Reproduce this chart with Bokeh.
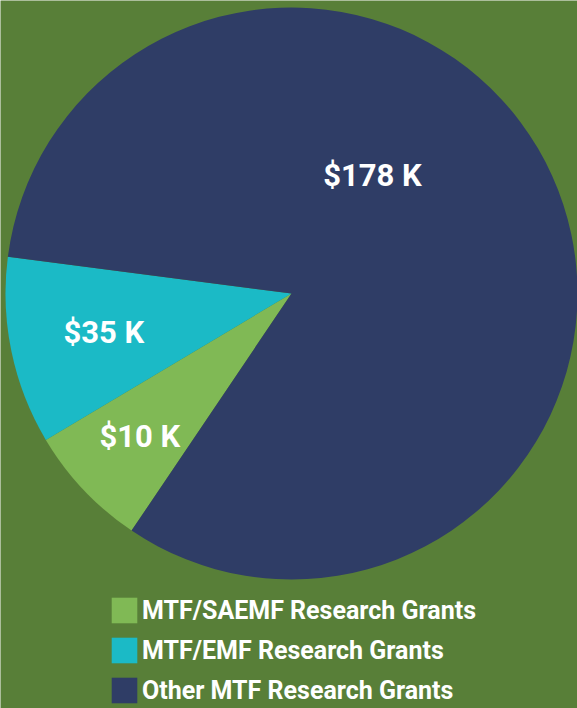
import numpy as np
from bokeh.plotting import figure
from bokeh.models import Range1d, Legend, LegendItem, ColumnDataSource
from bokeh.core.properties import value
from bokeh.embed import file_html
from bokeh.resources import INLINE

# ---- data ----
categories = ["MTF/SAEMF Research Grants", "MTF/EMF Research Grants", "Other MTF Research Grants"]
amounts_k = [10, 35, 178]
slice_share_pct = [7.0, 10.6, 82.4]   # share of the circle as drawn in the picture
colors = ["#80b955", "#1bbac6", "#2f3d66"]

# ---- layout ----
W, H = 577, 708
cx, cy, R = 291, H - 293, 286
start_deg = 236.0
label_r_frac = [0.73, 0.67, 0.50]
label_shift_deg = [0.0, 0.0, 31.2]

cum = np.cumsum([0] + slice_share_pct)
starts = [np.deg2rad(start_deg - 3.6 * cum[i]) for i in range(3)]
ends = [np.deg2rad(start_deg - 3.6 * cum[i + 1]) for i in range(3)]
mids = [np.deg2rad(start_deg - 3.6 * (cum[i] + cum[i + 1]) / 2 + label_shift_deg[i]) for i in range(3)]

src = ColumnDataSource(dict(
    x=[cx] * 3, y=[cy] * 3, start=starts, end=ends, color=colors, cat=categories,
))
lbl = ColumnDataSource(dict(
    x=[cx + R * f * np.cos(m) for f, m in zip(label_r_frac, mids)],
    y=[cy + R * f * np.sin(m) for f, m in zip(label_r_frac, mids)],
    text=[f"${v} K" for v in amounts_k],
))

p = figure(width=W, height=H, x_range=Range1d(0, W), y_range=Range1d(0, H),
           toolbar_location=None, output_backend="svg", min_border=0,
           x_axis_location=None, y_axis_location=None)
p.grid.visible = False
p.outline_line_color = None
p.background_fill_color = "#587f38"
p.border_fill_color = "#587f38"

r = p.wedge(x="x", y="y", radius=R, start_angle="start", end_angle="end",
            direction="clock", fill_color="color", line_color=None, source=src)

p.text(x="x", y="y", text="text", source=lbl, text_color="white",
       text_font=value("Roboto"), text_font_style="bold", text_font_size="31px",
       text_align="center", text_baseline="middle")

legend = Legend(items=[LegendItem(label=c, renderers=[r], index=i) for i, c in enumerate(categories)],
                location=(108, 2))
legend.background_fill_alpha = 0
legend.border_line_color = None
legend.padding = 0
legend.margin = 0
legend.glyph_width = 32
legend.glyph_height = 32
legend.label_height = 32
legend.spacing = 8
legend.label_standoff = 2
legend.label_text_color = "white"
legend.label_text_font = "Roboto"
legend.label_text_font_style = "bold"
legend.label_text_font_size = "25px"
p.add_layout(legend)

open("out.html", "w").write(file_html(p, INLINE))
